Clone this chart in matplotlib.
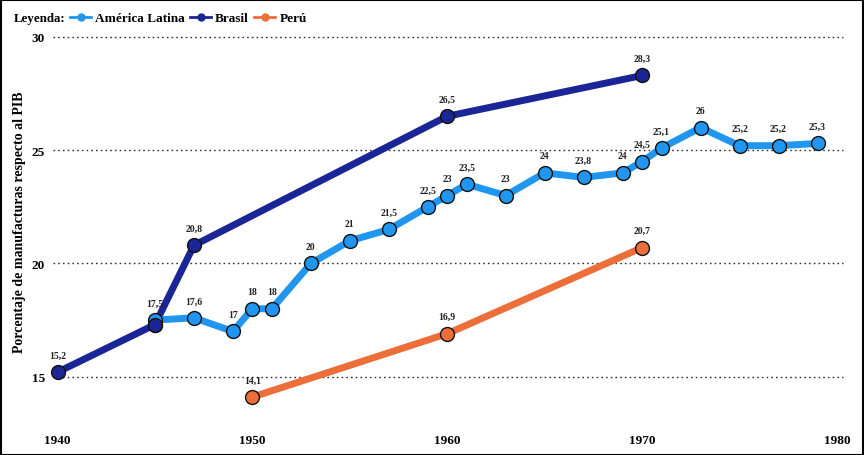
import matplotlib
matplotlib.use("Agg")
import matplotlib.pyplot as plt
from matplotlib.lines import Line2D
from matplotlib.patches import Rectangle

plt.rcParams['font.family'] = ['Liberation Serif', 'DejaVu Serif']

al_years = [1945, 1947, 1949, 1950, 1951, 1953, 1955, 1957, 1959, 1960, 1961, 1963,
            1965, 1967, 1969, 1970, 1971, 1973, 1975, 1977, 1979]
al_vals = [17.5, 17.6, 17.0, 18.0, 18.0, 20.0, 21.0, 21.5, 22.5, 23.0, 23.5, 23.0,
           24.0, 23.8, 24.0, 24.5, 25.1, 26.0, 25.2, 25.2, 25.3]
al_labels = ["17,5", "17,6", "17", "18", "18", "20", "21", "21,5", "22,5", "23", "23,5", "23",
             "24", "23,8", "24", "24,5", "25,1", "26", "25,2", "25,2", "25,3"]

br_years = [1940, 1945, 1947, 1960, 1970]
br_vals = [15.2, 17.3, 20.8, 26.5, 28.3]
br_labels = ["15,2", "", "20,8", "26,5", "28,3"]

pe_years = [1950, 1960, 1970]
pe_vals = [14.1, 16.9, 20.7]
pe_labels = ["14,1", "16,9", "20,7"]

series_names = ["América Latina", "Brasil", "Perú"]
colors = ["#2196f0", "#1a2596", "#ec6f3a"]

x_ticks = [1940, 1950, 1960, 1970, 1980]
y_ticks = [15, 20, 25, 30]

W, H = 864, 456
fig = plt.figure(figsize=(W / 100, H / 100), dpi=100)
ax = fig.add_axes([57.5 / W, 1 - 423 / H, (837 - 57.5) / W, (423 - 38) / H])
ax.set_xlim(1940, 1980)
ax.set_ylim(13, 30)

for y in y_ticks:
    ax.plot([1939.77, 1980.3], [y, y], linestyle=(0, (1.2, 2.2)), color="#333333",
            lw=1.0, clip_on=False, zorder=1)

data = [(br_years, br_vals, br_labels), (pe_years, pe_vals, pe_labels),
        (al_years, al_vals, al_labels)]
cols = [colors[1], colors[2], colors[0]]
zs = [3, 3, 4]
for (xs, ys, labs), c, z in zip(data, cols, zs):
    ax.plot(xs, ys, color=c, lw=5, solid_capstyle='butt', zorder=z, clip_on=False)
    ax.plot(xs, ys, linestyle='none', marker='o', markersize=10, markerfacecolor=c,
            markeredgecolor='#111111', markeredgewidth=1.0, zorder=z + 0.5, clip_on=False)
    for x, y, t in zip(xs, ys, labs):
        if t:
            ax.annotate(t, (x, y), xytext=(0, 9), textcoords='offset points',
                        ha='center', va='bottom', fontsize=7, fontweight='bold',
                        color='#222222', zorder=6)

# Brasil 1945 marker drawn on top of the América Latina marker
ax.plot([br_years[1]], [br_vals[1]], linestyle='none', marker='o', markersize=10,
        markerfacecolor=colors[1], markeredgecolor='#111111', markeredgewidth=1.0, zorder=5)

ax.set_xticks(x_ticks)
ax.set_xticklabels([str(v) for v in x_ticks], fontsize=9.5, fontweight='bold')
ax.set_yticks(y_ticks)
ax.set_yticklabels([str(v) for v in y_ticks], fontsize=9.5, fontweight='bold')
ax.tick_params(length=0, pad=9)
ax.tick_params(axis='y', pad=9)
for s in ax.spines.values():
    s.set_visible(False)

fig.text(20 / W, 1 - 222 / H, "Porcentaje de manufacturas respecto al PIB", rotation=90,
         ha='center', va='center', fontsize=10, fontweight='bold')

fig.text(14 / W, 1 - 19 / H, "Leyenda:", ha='left', va='center', fontsize=9.3,
         fontweight='bold')
handles = [Line2D([0], [0], color=c, lw=2, marker='o', markersize=5) for c in colors]
leg = fig.legend(handles, series_names, loc='center left',
                 bbox_to_anchor=(70 / W, 1 - 19 / H), ncol=3, frameon=False,
                 handlelength=1.6, handletextpad=0.3, columnspacing=0.4, borderpad=0,
                 borderaxespad=0, prop={'size': 9.5, 'weight': 'bold'})

fig.patches.append(Rectangle((0.5 / W, 0.5 / H), 1 - 1.5 / W, 1 - 1.5 / H,
                             transform=fig.transFigure, fill=False, edgecolor='black',
                             lw=1.5))

fig.savefig("out.png", dpi=100)
